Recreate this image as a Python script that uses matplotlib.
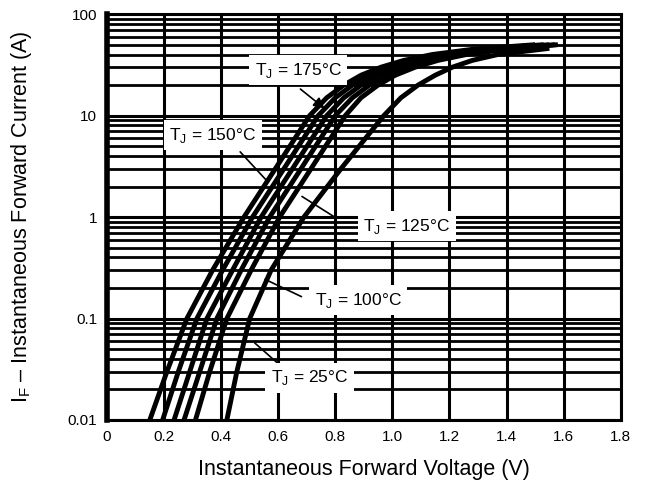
import numpy as np
import matplotlib
matplotlib.use("Agg")
from matplotlib import pyplot as plt

plt.rcParams['font.family'] = ['Liberation Sans', 'DejaVu Sans']
plt.rcParams['mathtext.fontset'] = 'custom'
plt.rcParams['mathtext.rm'] = 'Liberation Sans'

# forward current points (A) shared by the hot curves
current_hot = [0.01, 0.03, 0.1, 0.3, 1, 3, 10, 15, 20, 25, 30, 35, 40, 45, 50]
# forward voltage (V)
v_175 = [0.15, 0.21, 0.28, 0.37, 0.48, 0.59, 0.71, 0.77, 0.83, 0.89, 0.96, 1.04, 1.14, 1.28, 1.50]
v_150 = [0.195, 0.25, 0.315, 0.405, 0.51, 0.62, 0.74, 0.80, 0.86, 0.92, 0.99, 1.07, 1.17, 1.31, 1.53]
v_125 = [0.235, 0.29, 0.35, 0.44, 0.54, 0.65, 0.77, 0.83, 0.89, 0.95, 1.02, 1.10, 1.20, 1.34, 1.55]
v_100 = [0.27, 0.325, 0.385, 0.47, 0.57, 0.68, 0.80, 0.86, 0.92, 0.98, 1.05, 1.13, 1.23, 1.37, 1.57]
v_75 = [0.31, 0.36, 0.42, 0.505, 0.605, 0.715, 0.835, 0.89, 0.95, 1.01, 1.08, 1.16, 1.26, 1.40, 1.58]

current_25 = [0.01, 0.03, 0.1, 0.3, 1, 3, 10, 15, 20, 25, 30, 35, 40, 46]
v_25 = [0.42, 0.455, 0.50, 0.575, 0.69, 0.82, 0.97, 1.03, 1.09, 1.15, 1.21, 1.28, 1.37, 1.55]

x_ticks = [0, 0.2, 0.4, 0.6, 0.8, 1.0, 1.2, 1.4, 1.6, 1.8]
x_tick_labels = ["0", "0.2", "0.4", "0.6", "0.8", "1.0", "1.2", "1.4", "1.6", "1.8"]
y_ticks = [0.01, 0.1, 1, 10, 100]
y_tick_labels = ["0.01", "0.1", "1", "10", "100"]

# label text, label centre (V, A), pointer tip and tail (V, A)
labels = [r"T$_\mathrm{J}$ = 175°C", r"T$_\mathrm{J}$ = 150°C", r"T$_\mathrm{J}$ = 125°C",
          r"T$_\mathrm{J}$ = 100°C", r"T$_\mathrm{J}$ = 25°C"]
label_pos = [(0.67, 28), (0.37, 6.4), (1.05, 0.81), (0.88, 0.152), (0.71, 0.026)]
tip_pos = [(0.77, 11.3), (0.565, 2.2), (0.675, 1.65), (0.545, 0.25), (0.51, 0.06)]
tail_pos = [(0.67, 19), (0.46, 4.6), (0.81, 0.95), (0.69, 0.16), (0.62, 0.032)]

fig = plt.figure(figsize=(6.5, 4.87), dpi=100)
ax = fig.add_axes([0.1646, 0.1376, 0.7904, 0.8334])
ax.set_yscale('log')
ax.set_xlim(0, 1.8)
ax.set_ylim(0.01, 100)

ax.grid(True, which='major', axis='both', color='black', linewidth=2.2)
ax.grid(True, which='minor', axis='y', color='black', linewidth=2.0)
ax.set_axisbelow(True)

for v in [v_175, v_150, v_125, v_100, v_75]:
    ax.plot(v, current_hot, color='black', linewidth=3.5, solid_capstyle='butt', zorder=3)
ax.plot(v_25, current_25, color='black', linewidth=3.5, solid_capstyle='butt', zorder=3)

for i, text in enumerate(labels):
    ax.text(label_pos[i][0], label_pos[i][1], text, fontsize=12.5, ha='center', va='center',
            zorder=5, bbox=dict(facecolor='white', edgecolor='none', pad=4))
    if i == 0:
        ax.annotate("", xy=tip_pos[i], xytext=tail_pos[i], zorder=4,
                    arrowprops=dict(arrowstyle='-|>', color='black', lw=1.2, mutation_scale=16))
    else:
        ax.annotate("", xy=tip_pos[i], xytext=tail_pos[i], zorder=4,
                    arrowprops=dict(arrowstyle='-', color='black', lw=1.2))

ax.set_xticks(x_ticks)
ax.set_xticklabels(x_tick_labels)
ax.set_yticks(y_ticks)
ax.set_yticklabels(y_tick_labels)
ax.tick_params(axis='both', which='both', length=0, labelsize=11, pad=7)

for side in ['top', 'right', 'bottom']:
    ax.spines[side].set_linewidth(2.2)
ax.spines['left'].set_linewidth(4)

ax.set_xlabel("Instantaneous Forward Voltage (V)", fontsize=15.5, labelpad=11)
ax.set_ylabel(r"I$_\mathrm{F}$ – Instantaneous Forward Current (A)", fontsize=15.5, labelpad=24)

fig.savefig("out.png", dpi=100)
